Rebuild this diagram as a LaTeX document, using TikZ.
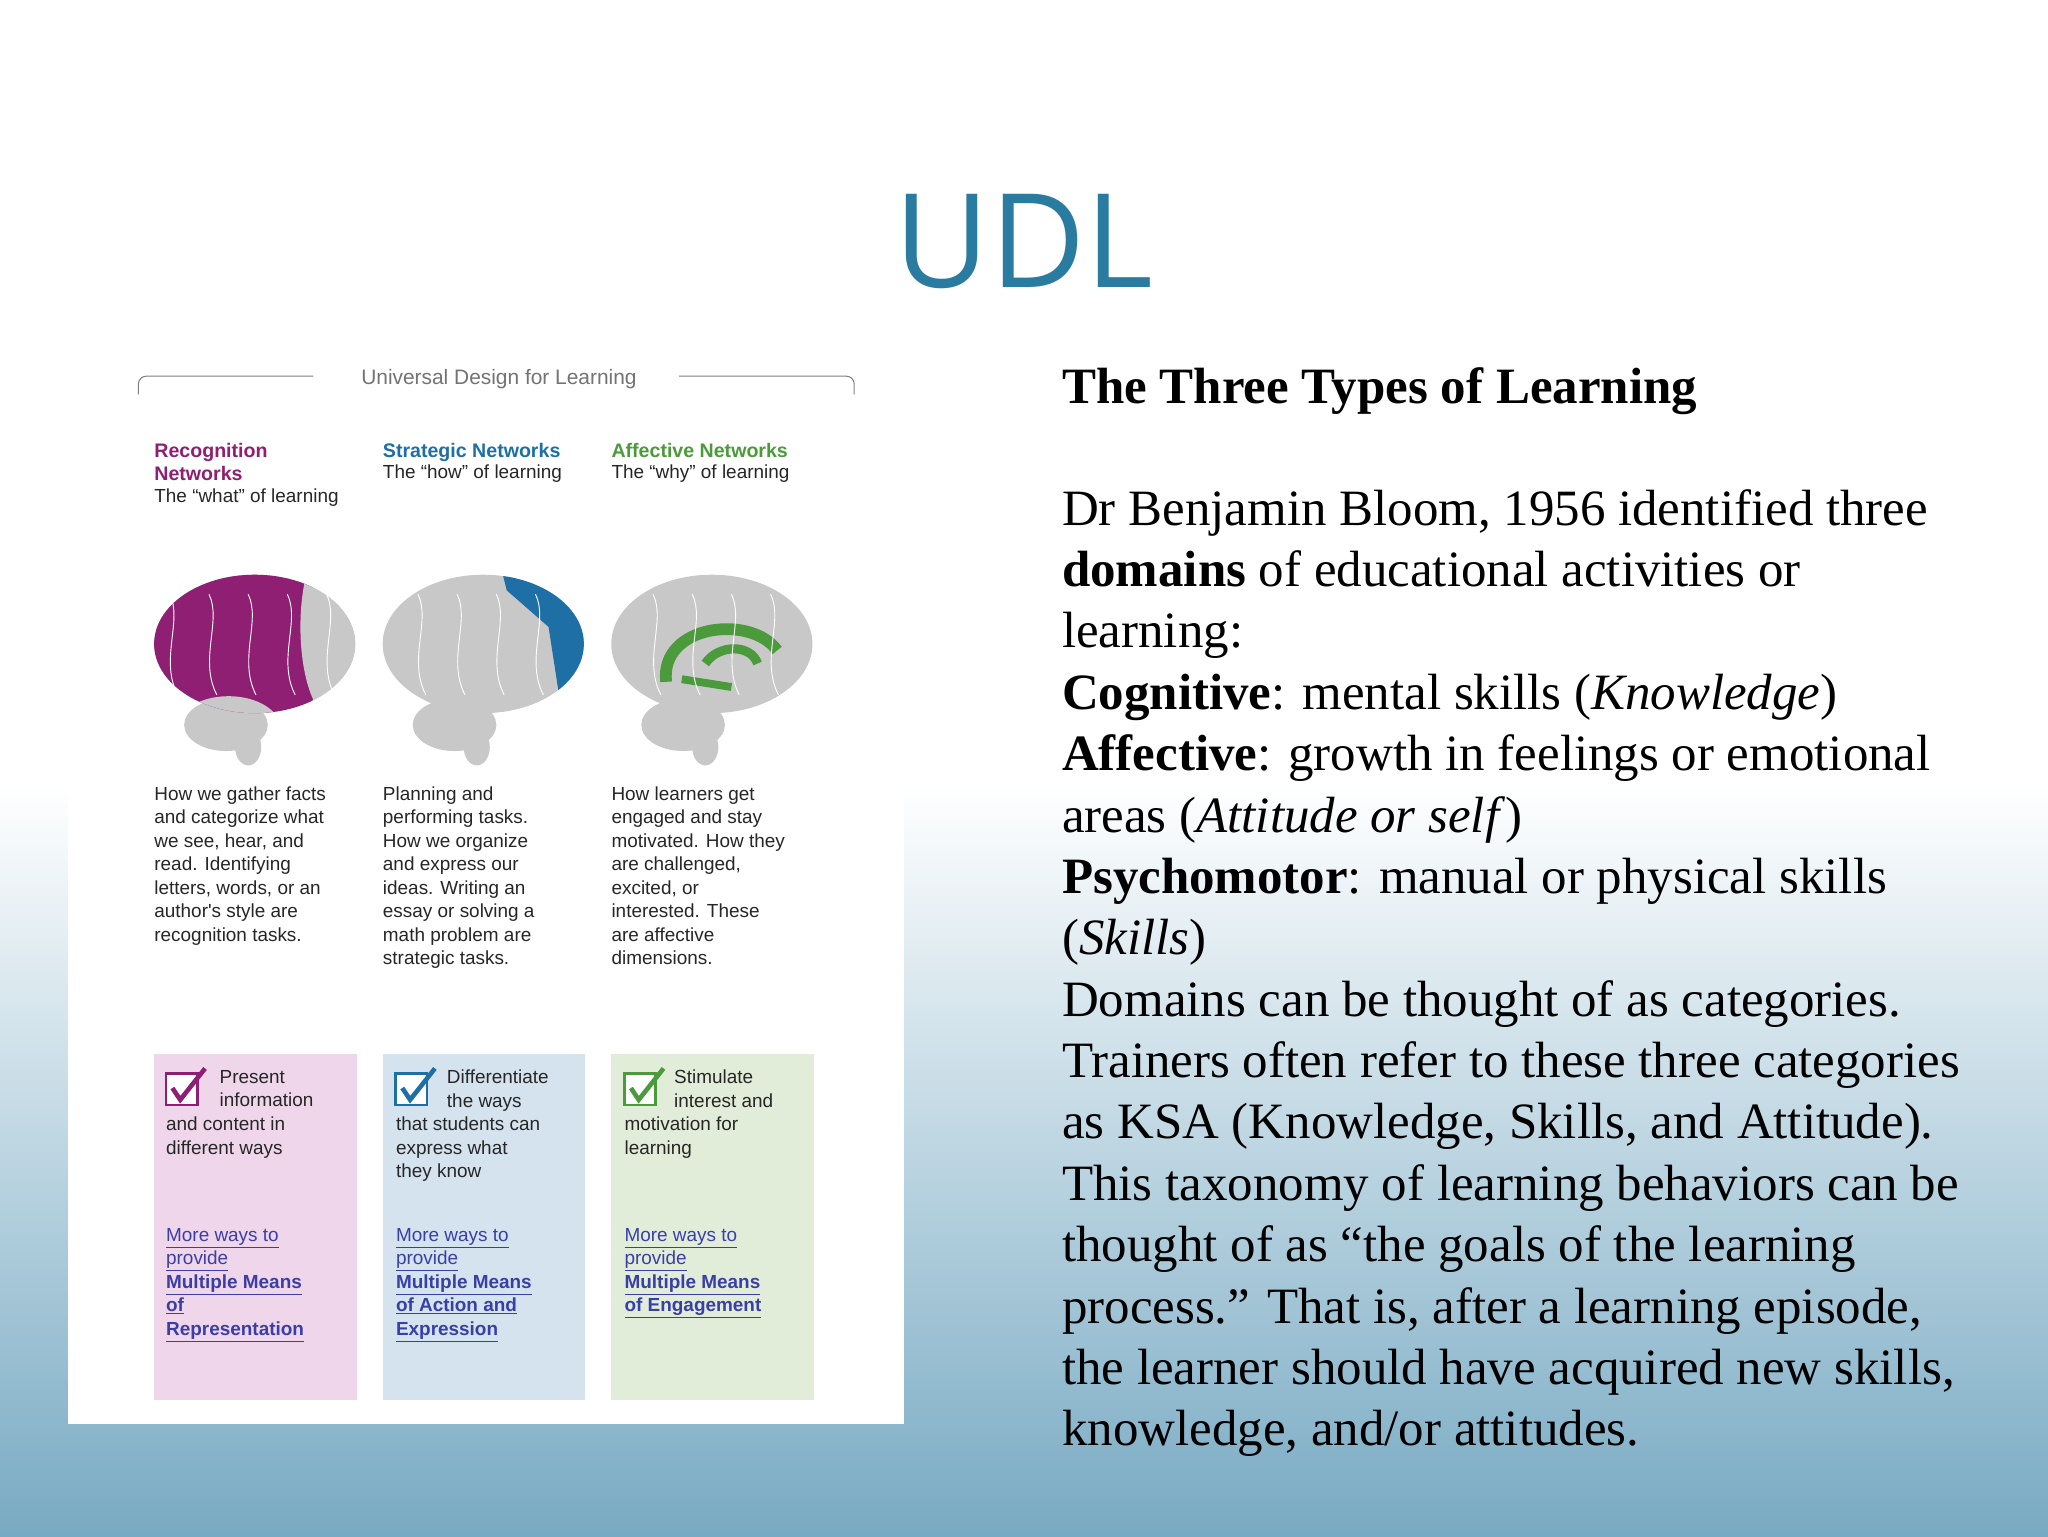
\documentclass[tikz,border=0pt]{standalone}
\usepackage{fontspec}
\setmainfont{Liberation Serif}
\newfontfamily\sans{Liberation Sans}
\newfontfamily\titlefont{Open Sans}
\definecolor{udlblue}{HTML}{2A7BA0}
\definecolor{rpurple}{HTML}{8E1F72}
\definecolor{sblue}{HTML}{1E6FA6}
\definecolor{agreen}{HTML}{4B9A3C}
\definecolor{pinkbox}{HTML}{F0D6EB}
\definecolor{bluebox}{HTML}{D5E3EE}
\definecolor{greenbox}{HTML}{E1EDD8}
\definecolor{linkblue}{HTML}{3A3FA8}
\definecolor{bggray}{HTML}{C8C8C8}
\begin{document}
\begin{tikzpicture}[x=1pt,y=-1pt,
  body/.style={anchor=base west,inner sep=0pt,font=\fontsize{39}{44}\selectfont},
  small/.style={anchor=north west,inner sep=0pt,align=left,font=\sans\fontsize{14.5}{18}\selectfont,text=black!85},
  head/.style={anchor=north west,inner sep=0pt,align=left,font=\sans\bfseries\fontsize{15}{18}\selectfont},
  link/.style={anchor=north west,inner sep=0pt,align=left,font=\sans\fontsize{14.5}{18}\selectfont,text=linkblue},
  chk/.style={draw=#1,line width=2pt,fill=white}]
\useasboundingbox (0,0) rectangle (1568,1176);
\shade[top color=white,bottom color=white] (0,0) rectangle (1568,600);
\shade[top color=white,bottom color={rgb,255:red,120;green,170;blue,195}] (0,600) rectangle (1568,1176);
\node[font=\titlefont\fontsize{100}{110}\selectfont,text=udlblue,inner sep=0pt] (title) at (784,185) {UDL};
% left panel
\fill[white] (52,275) rectangle (692,1090);
\node[font=\sans\fontsize{16}{18}\selectfont,text=black!55,inner sep=0pt] (ut) at (382,290) {Universal Design for Learning};
\draw[black!50,line width=0.8pt,rounded corners=6pt] (106,302) -- (106,288) -- (240,288);
\draw[black!50,line width=0.8pt,rounded corners=6pt] (520,288) -- (654,288) -- (654,302);
\node[head,text=rpurple] (h1) at (118,339) {Recognition\\Networks};
\node[small] (s1) at (118,374) {The “what” of learning};
\node[head,text=sblue] (h2) at (293,339) {Strategic Networks};
\node[small] (s2) at (293,356) {The “how” of learning};
\node[head,text=agreen] (h3) at (468,339) {Affective Networks};
\node[small] (s3) at (468,356) {The “why” of learning};
% brains
\foreach \bx in {118,293,468}{
  \fill[bggray] (\bx+72,572) ellipse (10 and 14);
  \fill[bggray] (\bx+55,555) ellipse (32 and 20);
  \fill[bggray] (\bx+77,493) ellipse (77 and 53);
}
\begin{scope}
 \clip (118+77,493) ellipse (77 and 53);
 \fill[rpurple] (110,430) rectangle (240,550);
 \fill[bggray] (255,480) ellipse (25 and 70);
 \fill[bggray] (175,558) ellipse (40 and 25);
\end{scope}
\begin{scope}
 \clip (293+77,493) ellipse (77 and 53);
 \fill[sblue] (385,440) -- (450,440) -- (450,545) -- (430,545) -- (420,480) -- (388,452) -- cycle;
\end{scope}
\draw[agreen,line width=9pt] (510,522) .. controls (505,478) and (575,470) .. (595,498);
\draw[agreen,line width=7pt] (540,508) .. controls (550,493) and (575,493) .. (580,508);
\draw[agreen,line width=6pt] (522,520) -- (560,526);
\foreach \x in {130,160,190,220,250,320,350,380,410,500,530,560,590}{
  \draw[white,line width=0.7pt] (\x,455) .. controls (\x+10,475) and (\x-8,505) .. (\x+6,532);
}
% descriptions
\node[small] (d1) at (118,602) {How we gather facts\\and categorize what\\we see, hear, and\\read. Identifying\\letters, words, or an\\author's style are\\recognition tasks.};
\node[small] (d2) at (293,602) {Planning and\\performing tasks.\\How we organize\\and express our\\ideas. Writing an\\essay or solving a\\math problem are\\strategic tasks.};
\node[small] (d3) at (468,602) {How learners get\\engaged and stay\\motivated. How they\\are challenged,\\excited, or\\interested. These\\are affective\\dimensions.};
% boxes
\fill[pinkbox] (118,807) rectangle (273,1072);
\fill[bluebox] (293,807) rectangle (448,1072);
\fill[greenbox] (468,807) rectangle (623,1072);
\foreach \bx/\c in {127/rpurple,303/sblue,478/agreen}{
  \draw[chk=\c] (\bx,822) rectangle (\bx+24,846);
  \draw[\c,line width=3.5pt] (\bx+5,833) -- (\bx+11,842) -- (\bx+30,818);
}
\node[small] (p1) at (168,819) {Present\\information};
\node[small] (q1) at (127,855) {and content in\\different ways};
\node[small] (p2) at (342,819) {Differentiate\\the ways};
\node[small] (q2) at (303,855) {that students can\\express what\\they know};
\node[small] (p3) at (516,819) {Stimulate\\interest and};
\node[small] (q3) at (478,855) {motivation for\\learning};
\node[link] (l1) at (127,940) {\underline{More ways to}\\\underline{provide}\\\underline{\bfseries Multiple Means}\\\underline{\bfseries of}\\\underline{\bfseries Representation}};
\node[link] (l2) at (303,940) {\underline{More ways to}\\\underline{provide}\\\underline{\bfseries Multiple Means}\\\underline{\bfseries of Action and}\\\underline{\bfseries Expression}};
\node[link] (l3) at (478,940) {\underline{More ways to}\\\underline{provide}\\\underline{\bfseries Multiple Means}\\\underline{\bfseries of Engagement}};
% right text
\node[body] (t0) at (813,309) {\bfseries The Three Types of Learning};
\node[body] (t1) at (813,402) {Dr Benjamin Bloom, 1956 identified three};
\node[body] (t2) at (813,449) {\textbf{domains} of educational activities or};
\node[body] (t3) at (813,496) {learning:};
\node[body] (t4) at (813,543) {\textbf{Cognitive}: mental skills (\textit{Knowledge})};
\node[body] (t5) at (813,590) {\textbf{Affective}: growth in feelings or emotional};
\node[body] (t6) at (813,637) {areas (\textit{Attitude or self})};
\node[body] (t7) at (813,684) {\textbf{Psychomotor}: manual or physical skills};
\node[body] (t8) at (813,731) {(\textit{Skills})};
\node[body] (t9) at (813,778) {Domains can be thought of as categories.};
\node[body] (t10) at (813,825) {Trainers often refer to these three categories};
\node[body] (t11) at (813,872) {as KSA (Knowledge, Skills, and Attitude).};
\node[body] (t12) at (813,919) {This taxonomy of learning behaviors can be};
\node[body] (t13) at (813,966) {thought of as ``the goals of the learning};
\node[body] (t14) at (813,1013) {process.'' That is, after a learning episode,};
\node[body] (t15) at (813,1060) {the learner should have acquired new skills,};
\node[body] (t16) at (813,1107) {knowledge, and/or attitudes.};
\end{tikzpicture}
\end{document}
